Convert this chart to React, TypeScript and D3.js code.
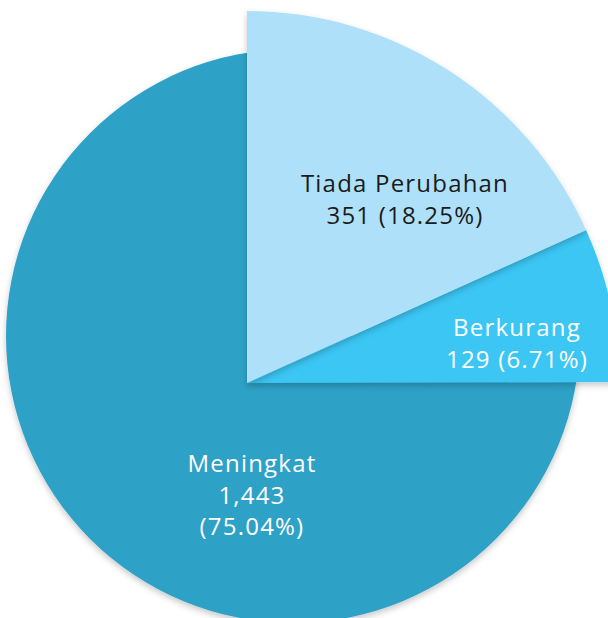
import React from "react";
import * as d3 from "d3";

// ---- data ----
const CATEGORIES = ["Tiada Perubahan", "Berkurang", "Meningkat"];
const VALUES = [351, 129, 1443];
const COLORS = ["#AEE1F9", "#3BC6F4", "#2FA1C7"];
const LABEL_COLORS = ["#1b1b1b", "#ffffff", "#ffffff"];

// ---- layout (styling) ----
const W = 608;
const H = 618;
// each slice has its own center / radius (the first two share one)
const SLICE_GEOM = [
  { cx: 247, cy: 383, r: 372 },
  { cx: 247, cy: 383, r: 372 },
  { cx: 293, cy: 336, r: 287 },
];
// label centre (x) and first baseline (y)
const LABEL_POS = [
  { x: 405, y: 192, lines: 2 },
  { x: 517, y: 336, lines: 2 },
  { x: 252, y: 472, lines: 3 },
];
const FONT = "'Open Sans', 'DejaVu Sans', sans-serif";
const FONT_SIZE = 24;
const LINE_H = 31.5;

export default function App() {
  const total = d3.sum(VALUES);
  const pie = d3
    .pie<number>()
    .sort(null)
    .value((d) => d);
  const arcs = pie(VALUES);
  const fmtNum = d3.format(",");
  const fmtPct = d3.format(".2%");

  return (
    <svg
      width={W}
      height={H}
      viewBox={`0 0 ${W} ${H}`}
      style={{ position: "absolute", left: 0, top: 0, display: "block" }}
    >
      <defs>
        <filter id="shadow" x="-20%" y="-20%" width="140%" height="140%">
          <feDropShadow dx="0" dy="3" stdDeviation="3" floodColor="#000" floodOpacity="0.22" />
        </filter>
      </defs>
      <rect width={W} height={H} fill="#ffffff" />
      {[2, 1, 0].map((i) => {
        const a = arcs[i];
        const g = SLICE_GEOM[i];
        const path = d3.arc<d3.PieArcDatum<number>>().innerRadius(0).outerRadius(g.r)(a) || "";
        return (
          <path
            key={CATEGORIES[i]}
            d={path}
            transform={`translate(${g.cx},${g.cy})`}
            fill={COLORS[i]}
            filter="url(#shadow)"
          />
        );
      })}
      {arcs.map((a, i) => {
        const pos = LABEL_POS[i];
        const pct = fmtPct(VALUES[i] / total);
        const lines =
          pos.lines === 3
            ? [CATEGORIES[i], fmtNum(VALUES[i]), `(${pct})`]
            : [CATEGORIES[i], `${fmtNum(VALUES[i])} (${pct})`];
        return (
          <text
            key={`lbl-${i}`}
            x={pos.x}
            y={pos.y}
            textAnchor="middle"
            fontFamily={FONT}
            fontSize={FONT_SIZE}
            fontWeight={400}
            letterSpacing={1.2}
            fill={LABEL_COLORS[i]}
          >
            {lines.map((t, k) => (
              <tspan key={k} x={pos.x} dy={k === 0 ? 0 : LINE_H}>
                {t}
              </tspan>
            ))}
          </text>
        );
      })}
    </svg>
  );
}
